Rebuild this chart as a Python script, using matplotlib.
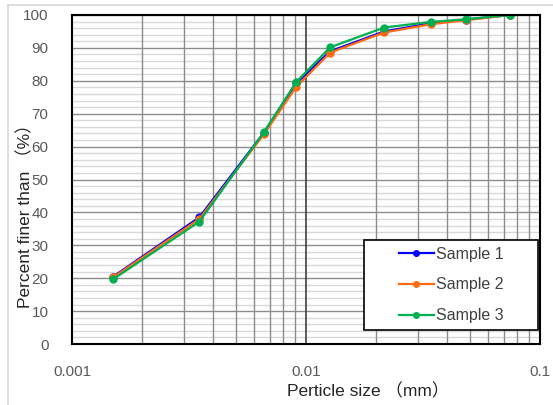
import matplotlib
matplotlib.use("Agg")
import matplotlib.pyplot as plt
from matplotlib.ticker import MultipleLocator, FixedLocator, FixedFormatter, LogLocator, NullFormatter
from matplotlib.lines import Line2D
from matplotlib.patches import Rectangle

plt.rcParams['font.family'] = ['Liberation Sans', 'Noto Sans CJK JP', 'DejaVu Sans']

# particle sizes (mm) and percent finer for each sample
sizes = [0.0015, 0.0035, 0.0066, 0.0091, 0.0127, 0.0216, 0.0342, 0.0481, 0.0747]
sample1 = [20.5, 38.5, 64.2, 79.3, 89.0, 95.0, 97.5, 98.6, 100]
sample2 = [20.3, 38.0, 63.7, 78.2, 88.6, 94.7, 97.2, 98.4, 100]
sample3 = [19.7, 37.2, 64.3, 79.7, 90.2, 96.2, 97.9, 98.7, 100]
names = ['Sample 1', 'Sample 2', 'Sample 3']
colors = ['#0000FF', '#FF6A13', '#00B050']

W, H = 553, 405
fig = plt.figure(figsize=(W / 100, H / 100), dpi=100)
ax = fig.add_axes([72 / W, 61 / H, 468 / W, 329 / H])

for ys, name, c in zip([sample1, sample2, sample3], names, colors):
    ax.plot(sizes, ys, color=c, lw=1.6, marker='o', ms=5, label=name, zorder=3)

ax.set_xscale('log')
ax.set_xlim(0.001, 0.1)
ax.set_ylim(0, 100)

ax.xaxis.set_major_locator(FixedLocator([0.001, 0.01, 0.1]))
ax.xaxis.set_major_formatter(FixedFormatter(['0.001', '0.01', '0.1']))
ax.xaxis.set_minor_locator(LogLocator(base=10, subs=range(2, 10)))
ax.xaxis.set_minor_formatter(NullFormatter())
ax.yaxis.set_major_locator(MultipleLocator(10))
ax.yaxis.set_minor_locator(MultipleLocator(2))

ax.grid(which='minor', axis='y', color='#d9d9d9', lw=1.0)
ax.grid(which='major', axis='y', color='#8c8c8c', lw=1.0)
ax.grid(which='minor', axis='x', color='#8c8c8c', lw=1.0)
ax.grid(which='major', axis='x', color='#404040', lw=1.2)
# horizontal grid under the vertical one
ax.yaxis.set_zorder(0.3)
ax.xaxis.set_zorder(0.6)

ax.tick_params(which='both', length=0)
ax.tick_params(axis='y', pad=17, labelsize=11, labelcolor='#595959')
ax.tick_params(axis='x', pad=15, labelsize=11, labelcolor='#595959')

for s in ax.spines.values():
    s.set_color('black')
    s.set_linewidth(1.5)
    s.set_zorder(4)

ax.set_xlabel('Perticle size （mm）', fontsize=12.5, color='#262626')
ax.set_ylabel('Percent finer than （%）', fontsize=12.5, color='#262626')
ax.xaxis.set_label_coords((368 - 72) / 468, (344 - 383) / 329)
ax.yaxis.set_label_coords((33 - 72) / 468, (344 - 212) / 329)

# legend box
ax.add_patch(Rectangle((364 / W, 1 - 330 / H), 174 / W, 90 / H,
                       transform=fig.transFigure, facecolor='white',
                       edgecolor='black', lw=1.2, zorder=5, clip_on=False))
leg = ax.legend(loc='center', bbox_to_anchor=(451 / W, 1 - 285 / H),
                bbox_transform=fig.transFigure, fontsize=11.5,
                frameon=False, handlelength=2.2, handletextpad=0.1,
                borderpad=0.2, labelspacing=1.0, markerscale=0.8)
leg.set_zorder(6)
for t in leg.get_texts():
    t.set_color('#404040')

# light chart-area border
fig.add_artist(Line2D([8 / W, 1], [1 - 5 / H, 1 - 5 / H], color='#d9d9d9', lw=1.2))
fig.add_artist(Line2D([8 / W, 8 / W], [0, 1 - 5 / H], color='#d9d9d9', lw=1.2))

fig.savefig('out.png', dpi=100)
